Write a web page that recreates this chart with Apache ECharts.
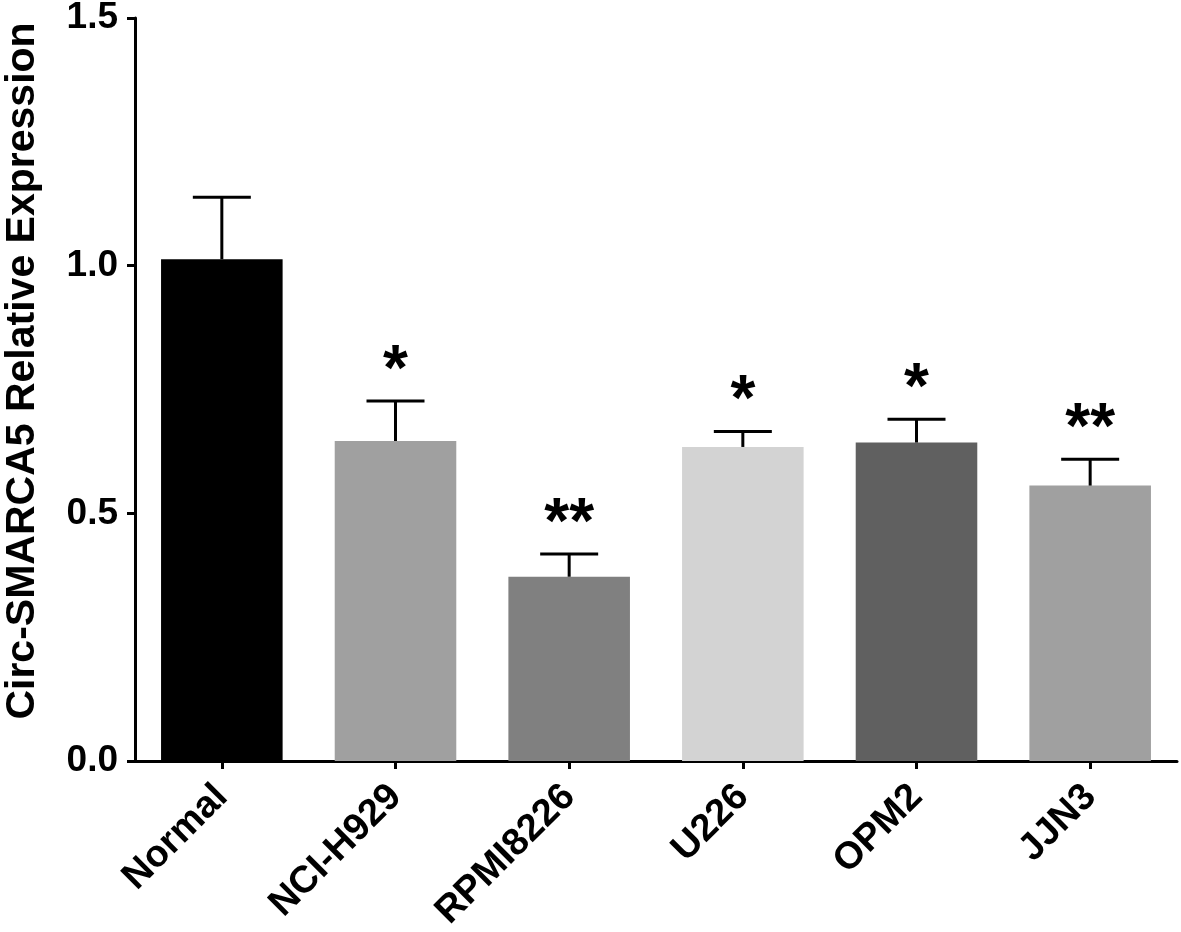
<!DOCTYPE html>
<html><head><meta charset="utf-8">
<script src="https://cdn.jsdelivr.net/npm/echarts@6/dist/echarts.min.js"></script>
<style>html,body{margin:0;padding:0;background:#fff}#c{width:1181px;height:932px}</style>
</head><body><div id="c"></div>
<script>
const categories = ['Normal', 'NCI-H929', 'RPMI8226', 'U226', 'OPM2', 'JJN3'];
const means = [1.013, 0.646, 0.372, 0.634, 0.643, 0.556];
const errorTops = [1.138, 0.727, 0.418, 0.665, 0.690, 0.609];
const significance = ['', '*', '**', '*', '*', '**'];
const barColors = ['#000000', '#a0a0a0', '#808080', '#d3d3d3', '#606060', '#a0a0a0'];
const yTickLabels = ['0.0', '0.5', '1.0', '1.5'];
const yTitle = 'Circ-SMARCA5 Relative Expression';

const FONT = '"Liberation Sans", Arial, sans-serif';
const chart = echarts.init(document.getElementById('c'), null, {renderer: 'canvas'});

chart.setOption({
  backgroundColor: '#ffffff',
  animation: false,
  grid: {left: 135, right: 4, top: 18, bottom: 171, containLabel: false, outerBoundsMode: 'none'},
  graphic: [{
    type: 'text',
    x: 23, y: 371,
    rotation: Math.PI / 2,
    style: {text: yTitle, fill: '#000', font: 'bold 41px ' + FONT, align: 'center', verticalAlign: 'middle'}
  }],
  xAxis: {
    type: 'category',
    data: categories,
    axisLine: {show: true, lineStyle: {color: '#000', width: 3}},
    axisTick: {show: true, alignWithLabel: true, length: 8, lineStyle: {color: '#000', width: 3}},
    axisLabel: {rotate: 45, interval: 0, margin: 30, color: '#000', fontSize: 38, fontWeight: 'bold', fontFamily: FONT},
    splitLine: {show: false}
  },
  yAxis: {
    type: 'value',
    min: 0, max: 1.5, interval: 0.5,
    axisLine: {show: true, lineStyle: {color: '#000', width: 3}},
    axisTick: {show: true, length: 8, lineStyle: {color: '#000', width: 3}},
    axisLabel: {margin: 17, color: '#000', fontSize: 37, fontWeight: 'bold', fontFamily: FONT,
      formatter: function (v) { const i = Math.round(v / 0.5); return yTickLabels[i] !== undefined ? yTickLabels[i] : v.toFixed(1); }},
    splitLine: {show: false}
  },
  series: [
    {
      type: 'bar',
      barWidth: '70%',
      data: means.map((v, i) => ({value: v, itemStyle: {color: barColors[i]}})),
      z: 2
    },
    {
      type: 'custom',
      z: 5,
      data: categories.map((c, i) => [i, means[i], errorTops[i]]),
      renderItem: function (params, api) {
        const i = api.value(0);
        const p0 = api.coord([i, api.value(1)]);
        const p1 = api.coord([i, api.value(2)]);
        const half = 29;
        const children = [
          {type: 'line', shape: {x1: p0[0], y1: p0[1], x2: p1[0], y2: p1[1]}, style: {stroke: '#000', lineWidth: 3}},
          {type: 'line', shape: {x1: p1[0] - half, y1: p1[1], x2: p1[0] + half, y2: p1[1]}, style: {stroke: '#000', lineWidth: 3}}
        ];
        const sig = significance[params.dataIndex];
        if (sig) {
          children.push({type: 'text', x: p1[0], y: p1[1] - 29,
            style: {text: sig, fill: '#000', font: 'bold 64px ' + FONT, align: 'center', verticalAlign: 'middle'}});
        }
        return {type: 'group', children: children};
      }
    }
  ]
});
</script>
</body></html>
